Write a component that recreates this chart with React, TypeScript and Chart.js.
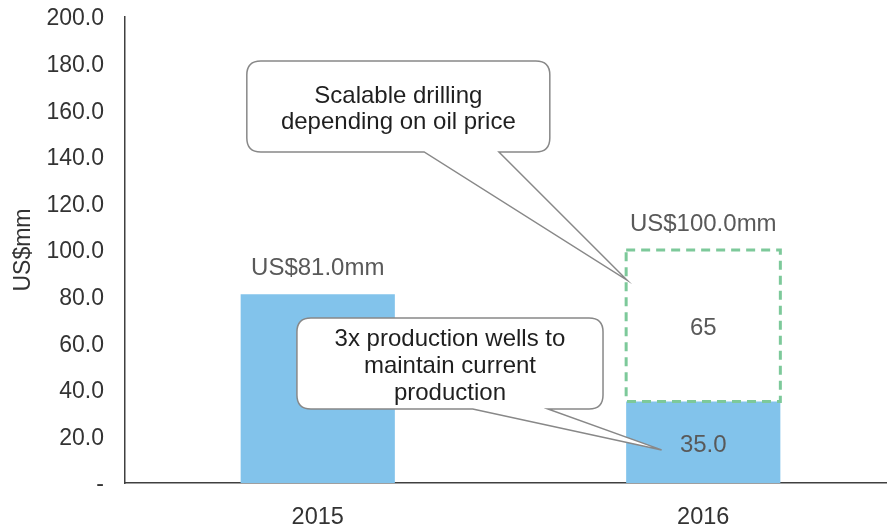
import React, { useEffect, useRef } from "react";
import { Chart, registerables } from "chart.js";

Chart.register(...registerables);

const categories = ["2015", "2016"];
const baseValues = [81.0, 35.0];
const scalableValues = [0, 65];
const totalLabels = ["US$81.0mm", "US$100.0mm"];
const baseLabels = ["", "35.0"];
const scalableLabels = ["", "65"];
const yTickMax = 200;
const yTickStep = 20;
const yTitle = "US$mm";
const callout1Lines = ["Scalable drilling", "depending on oil price"];
const callout2Lines = ["3x production wells to", "maintain current", "production"];

const FONT = "'Liberation Sans', Arial, sans-serif";
const BLUE = "#82c3eb";
const GREEN = "#7dc99a";

function drawCallout(
  chart: any,
  box: { x0: number; x1: number; y0: number; y1: number },
  base: [number, number],
  tip: { x: number; y: number },
  lines: string[],
  lineH: number
) {
  const ctx = chart.ctx as CanvasRenderingContext2D;
  const xs = chart.scales.x;
  const ys = chart.scales.y;
  const left = xs.getPixelForValue(box.x0);
  const right = xs.getPixelForValue(box.x1);
  const top = ys.getPixelForValue(box.y0);
  const bottom = ys.getPixelForValue(box.y1);
  const b1 = xs.getPixelForValue(base[0]);
  const b2 = xs.getPixelForValue(base[1]);
  const tx = xs.getPixelForValue(tip.x);
  const ty = ys.getPixelForValue(tip.y);
  const r = 14;
  ctx.save();
  ctx.lineWidth = 1.5;
  ctx.strokeStyle = "#888888";
  ctx.fillStyle = "#ffffff";
  ctx.beginPath();
  ctx.moveTo(left + r, top);
  ctx.lineTo(right - r, top);
  ctx.quadraticCurveTo(right, top, right, top + r);
  ctx.lineTo(right, bottom - r);
  ctx.quadraticCurveTo(right, bottom, right - r, bottom);
  ctx.lineTo(b2, bottom);
  ctx.lineTo(tx, ty);
  ctx.lineTo(b1, bottom);
  ctx.lineTo(left + r, bottom);
  ctx.quadraticCurveTo(left, bottom, left, bottom - r);
  ctx.lineTo(left, top + r);
  ctx.quadraticCurveTo(left, top, left + r, top);
  ctx.closePath();
  ctx.fill();
  ctx.stroke();
  ctx.fillStyle = "#1f1f1f";
  ctx.font = `24px ${FONT}`;
  ctx.textAlign = "center";
  ctx.textBaseline = "middle";
  const cx = (left + right) / 2;
  const cy = (top + bottom) / 2 + 3;
  const start = cy - ((lines.length - 1) * lineH) / 2;
  lines.forEach((l, i) => ctx.fillText(l, cx, start + i * lineH));
  ctx.restore();
}

const overlayPlugin = {
  id: "overlay",
  afterDatasetsDraw(chart: any) {
    const ctx = chart.ctx as CanvasRenderingContext2D;
    const meta0 = chart.getDatasetMeta(0);
    const meta1 = chart.getDatasetMeta(1);
    meta1.data.forEach((el: any, i: number) => {
      if (!scalableValues[i]) return;
      const p = el.getProps(["x", "y", "base", "width"], true);
      ctx.save();
      ctx.strokeStyle = GREEN;
      ctx.lineWidth = 3;
      ctx.setLineDash([9, 6]);
      ctx.strokeRect(p.x - p.width / 2, p.y, p.width, p.base - p.y);
      ctx.restore();
    });
    drawCallout(
      chart,
      { x0: -0.184, x1: 0.602, y0: 181.1, y1: 142.1 },
      [0.276, 0.47],
      { x: 0.802, y: 87.1 },
      callout1Lines,
      26
    );
    drawCallout(
      chart,
      { x0: -0.054, x1: 0.74, y0: 70.8, y1: 31.8 },
      [0.402, 0.597],
      { x: 0.892, y: 14.2 },
      callout2Lines,
      27
    );
    ctx.save();
    ctx.font = `24px ${FONT}`;
    ctx.fillStyle = "#595959";
    ctx.textAlign = "center";
    ctx.textBaseline = "middle";
    const ys = chart.scales.y;
    categories.forEach((_, i) => {
      const x = meta0.data[i].x;
      const total = baseValues[i] + scalableValues[i];
      ctx.fillText(totalLabels[i], x, ys.getPixelForValue(total) - 26);
      if (baseLabels[i]) ctx.fillText(baseLabels[i], x, ys.getPixelForValue(baseValues[i] / 2) + 3);
      if (scalableLabels[i])
        ctx.fillText(scalableLabels[i], x, ys.getPixelForValue(baseValues[i] + scalableValues[i] / 2) + 3);
    });
    ctx.restore();
  },
};

export default function App() {
  const ref = useRef<HTMLCanvasElement>(null);
  useEffect(() => {
    if (!ref.current) return;
    const chart = new Chart(ref.current, {
      type: "bar",
      data: {
        labels: categories,
        datasets: [
          {
            data: baseValues,
            backgroundColor: BLUE,
            borderWidth: 0,
            barPercentage: 0.4,
            categoryPercentage: 1,
          },
          {
            data: scalableValues,
            backgroundColor: "rgba(0,0,0,0)",
            borderWidth: 0,
            barPercentage: 0.4,
            categoryPercentage: 1,
          },
        ],
      },
      options: {
        responsive: false,
        animation: false,
        layout: { padding: { top: 17, left: 0, right: 0, bottom: 0 } },
        plugins: { legend: { display: false }, tooltip: { enabled: false } },
        scales: {
          x: {
            stacked: true,
            grid: { display: false, drawTicks: false },
            border: { display: true, color: "#404040", width: 1.5 },
            ticks: { color: "#333333", font: { family: FONT, size: 23.5 }, padding: 20 },
            afterFit: (s: any) => {
              s.height = 42;
              s.paddingLeft = 0;
              s.paddingRight = 0;
            },
          },
          y: {
            stacked: true,
            min: 0,
            max: yTickMax,
            grid: { display: false, drawTicks: false },
            border: { display: true, color: "#404040", width: 1.5 },
            ticks: {
              stepSize: yTickStep,
              color: "#333333",
              font: { family: FONT, size: 23 },
              padding: 21,
              labelOffset: 2,
              callback: (v: any) => (Number(v) === 0 ? "-" : Number(v).toFixed(1)),
            },
            title: {
              display: true,
              text: yTitle,
              color: "#333333",
              font: { family: FONT, size: 23 },
              padding: { top: 10, bottom: 0 },
            },
            afterFit: (s: any) => {
              s.width = 125;
              s.paddingTop = 0;
              s.paddingBottom = 0;
            },
          },
        },
      },
      plugins: [overlayPlugin],
    });
    return () => chart.destroy();
  }, []);
  return (
    <div style={{ position: "absolute", left: 0, top: 0, width: 887, height: 525, overflow: "hidden", background: "#fff" }}>
      <canvas ref={ref} width={896} height={525} style={{ display: "block" }} />
    </div>
  );
}
